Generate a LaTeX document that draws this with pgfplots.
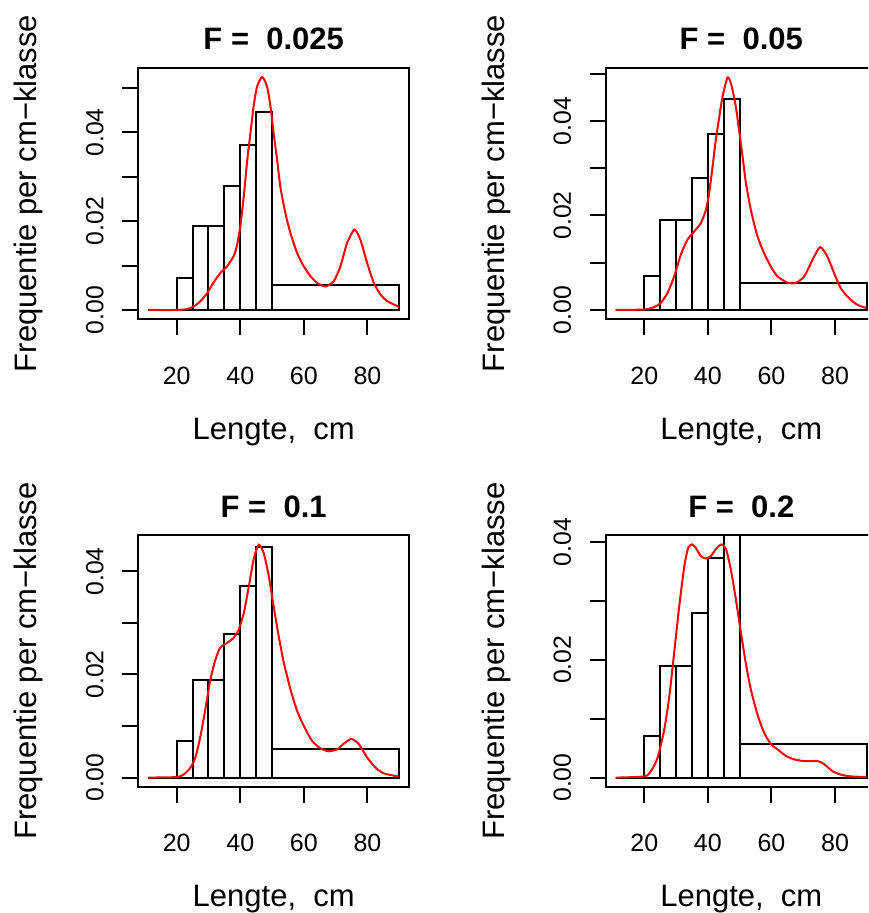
\documentclass[border=0pt]{standalone}
\usepackage{fontspec}
\setmainfont{Liberation Sans}
\usepackage{pgfplots}
\pgfplotsset{compat=1.18}
\usepackage{pgfplotstable}

\pgfplotstableread{
x y
11 0
20 0.0071
25 0.0190
30 0.0190
35 0.0279
40 0.0372
45 0.0447
50 0.00563
90 0
}\hist

\pgfplotstableread{
x y
11.1 0
20 0.0000
23.3 0.0002
25.4 0.0008
27.5 0.0020
29.6 0.0038
31.6 0.0062
33.7 0.0083
35.8 0.0098
37.9 0.0121
38.9 0.0143
40.0 0.0188
41.1 0.0256
42.1 0.0331
43.2 0.0398
44.2 0.0459
45.3 0.0504
46.9 0.0525
48.4 0.0504
49.5 0.0459
50.5 0.0398
51.6 0.0338
52.6 0.0278
54.2 0.0218
55.8 0.0173
57.9 0.0128
60.0 0.0098
62.1 0.0076
64.2 0.0061
66.8 0.0053
69.4 0.0065
71.5 0.0098
73.6 0.0151
75.9 0.0181
77.8 0.0158
79.9 0.0106
82.0 0.0061
84.1 0.0035
86.2 0.0020
89.9 0.0007
}\densA

\pgfplotstableread{
x y
11.1 0
20.0 0.0001
23.1 0.0006
25.2 0.0015
27.3 0.0036
29.4 0.0071
31.5 0.0117
33.6 0.0149
35.7 0.0166
37.8 0.0184
39.4 0.0212
40.4 0.0247
41.5 0.0304
42.5 0.0360
43.6 0.0409
44.6 0.0451
46.2 0.0492
47.4 0.0476
48.8 0.0430
49.8 0.0381
50.9 0.0325
51.9 0.0272
53.5 0.0212
55.6 0.0156
57.7 0.0120
59.8 0.0092
61.9 0.0071
65.0 0.0058
67.6 0.0057
70.3 0.0071
72.9 0.0106
75.3 0.0133
77.6 0.0113
79.7 0.0078
81.8 0.0046
84.4 0.0025
87.0 0.0011
89.9 0.0004
}\densB

\pgfplotstableread{
x y
11.1 0
20.0 0.0001
22.2 0.0006
24.3 0.0019
25.9 0.0039
27.5 0.0081
29.0 0.0132
30.6 0.0190
32.2 0.0229
33.7 0.0252
35.8 0.0261
37.9 0.0271
39.5 0.0287
41.1 0.0319
42.7 0.0371
44.2 0.0423
45.8 0.0452
47.4 0.0435
49.0 0.0390
50.5 0.0332
52.1 0.0274
53.7 0.0223
55.8 0.0171
57.9 0.0129
60.0 0.0100
62.6 0.0071
65.2 0.0057
67.8 0.0051
70.5 0.0055
72.6 0.0066
74.9 0.0075
77.3 0.0065
79.9 0.0039
82.6 0.0019
85.2 0.0008
89.9 0.0002
}\densC

\pgfplotstableread{
x y
11.1 0
20.0 0.0002
22.1 0.0011
24.2 0.0034
26.3 0.0082
27.9 0.0139
29.4 0.0212
31.0 0.0291
32.6 0.0359
33.8 0.0390
35.0 0.0396
36.2 0.0390
37.8 0.0376
39.4 0.0372
40.9 0.0376
42.8 0.0390
44.3 0.0396
45.7 0.0388
47.2 0.0354
48.8 0.0303
50.4 0.0246
51.9 0.0195
53.5 0.0150
55.6 0.0107
57.7 0.0076
59.8 0.0057
61.9 0.0048
64.5 0.0037
67.1 0.0031
70.3 0.0028
74.5 0.0028
76.5 0.0023
79.2 0.0011
81.8 0.0005
84.9 0.0002
89.9 0.0001
}\densD

\pgfplotsset{
  panel/.style={
    scale only axis, width=135.65pt, height=125.8pt,
    anchor=south west,
    xmin=7.84, xmax=93.16,
    axis line style={line width=1pt, black},
    every tick/.style={black, line width=1pt},
    tick align=outside, tick pos=left,
    major tick length=8pt,
    xtick={20,40,60,80}, xticklabels={20,40,60,80},
    xticklabel style={font=\fontsize{12.5}{14}\selectfont, inner sep=0pt, anchor=north},
    yticklabel style={font=\fontsize{12.4}{14}\selectfont, rotate=90, anchor=south, inner sep=0pt},
    xticklabel shift=15.5pt,
    yticklabel shift=9pt,
    scaled y ticks=false,
    yticklabels={0.00,,0.02,,0.04,},
  },
  hist/.style={ybar interval, draw=black, fill=none, line width=1pt, mark=none},
  dens/.style={red, line width=1pt, smooth, tension=0.4, mark=none},
}
\newcommand{\labfont}{\fontsize{15.5}{18}\selectfont}

\begin{document}
\begin{tikzpicture}
\useasboundingbox (0,0) rectangle (434pt,456.5pt);
\clip (0,0) rectangle (434pt,456.5pt);
\fill[white] (0,0) rectangle (434pt,456.5pt);

% Panel 1
\begin{axis}[panel, at={(69pt,296.85pt)}, ymin=-0.0021, ymax=0.0546, ytick={0,0.01,0.02,0.03,0.04,0.05}]
\addplot[hist] table {\hist};
\addplot[dens] table {\densA};
\end{axis}
\node[font=\labfont\bfseries, anchor=base] at (136.85pt,431.5pt) {F = \ 0.025};
\node[font=\labfont, anchor=base] at (136.85pt,236.85pt) {Lengte, \ cm};
\node[font=\labfont, anchor=base, rotate=90] at (18.25pt,359.75pt) {Frequentie per cm−klasse};

% Panel 2
\begin{axis}[panel, at={(302.8pt,296.85pt)}, ymin=-0.00197, ymax=0.05127, ytick={0,0.01,0.02,0.03,0.04,0.05}]
\addplot[hist] table {\hist};
\addplot[dens] table {\densB};
\end{axis}
\node[font=\labfont\bfseries, anchor=base] at (370.65pt,431.5pt) {F = \ 0.05};
\node[font=\labfont, anchor=base] at (370.65pt,236.85pt) {Lengte, \ cm};
\node[font=\labfont, anchor=base, rotate=90] at (252.05pt,359.75pt) {Frequentie per cm−klasse};

% Panel 3
\begin{axis}[panel, at={(69pt,63.05pt)}, ymin=-0.00181, ymax=0.04701, ytick={0,0.01,0.02,0.03,0.04}]
\addplot[hist] table {\hist};
\addplot[dens] table {\densC};
\end{axis}
\node[font=\labfont\bfseries, anchor=base] at (136.85pt,197.7pt) {F = \ 0.1};
\node[font=\labfont, anchor=base] at (136.85pt,3.05pt) {Lengte, \ cm};
\node[font=\labfont, anchor=base, rotate=90] at (18.25pt,125.95pt) {Frequentie per cm−klasse};

% Panel 4
\begin{axis}[panel, at={(302.8pt,63.05pt)}, ymin=-0.00158, ymax=0.04114, ytick={0,0.01,0.02,0.03,0.04}]
\addplot[hist] table {\hist};
\addplot[dens] table {\densD};
\end{axis}
\node[font=\labfont\bfseries, anchor=base] at (370.65pt,197.7pt) {F = \ 0.2};
\node[font=\labfont, anchor=base] at (370.65pt,3.05pt) {Lengte, \ cm};
\node[font=\labfont, anchor=base, rotate=90] at (252.05pt,125.95pt) {Frequentie per cm−klasse};
\end{tikzpicture}
\end{document}
